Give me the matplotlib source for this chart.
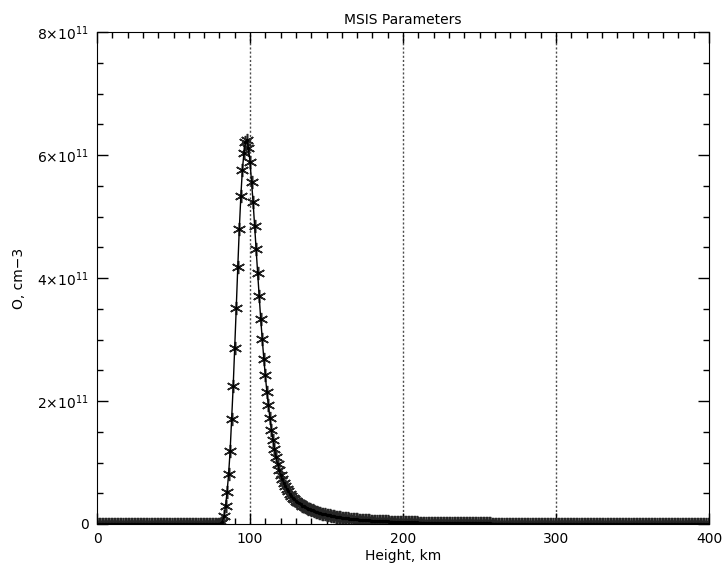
import numpy as np
import matplotlib
matplotlib.use("Agg")
from matplotlib import pyplot as plt
from matplotlib.ticker import MultipleLocator

plt.rcParams['font.family'] = ['DejaVu Sans']
plt.rcParams['mathtext.fontset'] = 'dejavusans'

# heights, km (one sample per km)
heights = np.arange(0, 401)

# atomic oxygen density, units of 1e11 cm-3
o_density = [
    # 0-79 km
    0, 0, 0, 0, 0, 0, 0, 0, 0, 0,
    0, 0, 0, 0, 0, 0, 0, 0, 0, 0,
    0, 0, 0, 0, 0, 0, 0, 0, 0, 0,
    0, 0, 0, 0, 0, 0, 0, 0, 0, 0,
    0, 0, 0, 0, 0, 0, 0, 0, 0, 0,
    0, 0, 0, 0, 0, 0, 0, 0, 0, 0,
    0, 0, 0, 0, 0, 0, 0, 0, 0, 0,
    0, 0, 0, 0, 0, 0, 0, 0, 0, 0,
    # 80-89
    0.003, 0.01, 0.04, 0.13, 0.29, 0.52, 0.81, 1.19, 1.71, 2.24,
    # 90-99
    2.86, 3.51, 4.18, 4.80, 5.33, 5.76, 6.03, 6.21, 6.25, 6.11,
    # 100-109
    5.89, 5.57, 5.24, 4.85, 4.47, 4.08, 3.71, 3.33, 3.01, 2.69,
    # 110-119
    2.42, 2.15, 1.93, 1.72, 1.53, 1.37, 1.22, 1.09, 0.98, 0.88,
    # 120-129
    0.80, 0.73, 0.67, 0.62, 0.57, 0.53, 0.49, 0.46, 0.43, 0.40,
    # 130-139
    0.38, 0.36, 0.34, 0.32, 0.30, 0.29, 0.27, 0.26, 0.25, 0.24,
    # 140-149
    0.23, 0.22, 0.21, 0.20, 0.19, 0.18, 0.175, 0.17, 0.16, 0.155,
    # 150-159
    0.15, 0.145, 0.14, 0.135, 0.13, 0.125, 0.12, 0.116, 0.112, 0.108,
    # 160-169
    0.104, 0.10, 0.097, 0.094, 0.091, 0.088, 0.085, 0.082, 0.079, 0.077,
    # 170-179
    0.074, 0.072, 0.070, 0.068, 0.066, 0.064, 0.062, 0.060, 0.058, 0.056,
    # 180-189
    0.055, 0.053, 0.052, 0.050, 0.049, 0.047, 0.046, 0.045, 0.043, 0.042,
    # 190-199
    0.041, 0.040, 0.039, 0.038, 0.037, 0.036, 0.035, 0.034, 0.033, 0.032,
    # 200-209
    0.031, 0.030, 0.030, 0.029, 0.028, 0.027, 0.027, 0.026, 0.025, 0.025,
    # 210-219
    0.024, 0.023, 0.023, 0.022, 0.022, 0.021, 0.021, 0.020, 0.020, 0.019,
    # 220-229
    0.019, 0.018, 0.018, 0.017, 0.017, 0.017, 0.016, 0.016, 0.015, 0.015,
    # 230-239
    0.015, 0.014, 0.014, 0.014, 0.013, 0.013, 0.013, 0.012, 0.012, 0.012,
    # 240-249
    0.012, 0.011, 0.011, 0.011, 0.010, 0.010, 0.010, 0.010, 0.009, 0.009,
    # 250-259
    0.009, 0.009, 0.009, 0.008, 0.008, 0.008, 0.008, 0.008, 0.007, 0.007,
    # 260-269
    0.007, 0.007, 0.007, 0.007, 0.006, 0.006, 0.006, 0.006, 0.006, 0.006,
    # 270-279
    0.006, 0.005, 0.005, 0.005, 0.005, 0.005, 0.005, 0.005, 0.005, 0.005,
    # 280-289
    0.005, 0.004, 0.004, 0.004, 0.004, 0.004, 0.004, 0.004, 0.004, 0.004,
    # 290-299
    0.004, 0.004, 0.004, 0.004, 0.004, 0.004, 0.004, 0.004, 0.004, 0.004,
    # 300-309
    0.004, 0.004, 0.004, 0.004, 0.004, 0.003, 0.003, 0.003, 0.003, 0.003,
    # 310-319
    0.003, 0.003, 0.003, 0.003, 0.003, 0.003, 0.003, 0.003, 0.003, 0.003,
    # 320-329
    0.003, 0.003, 0.003, 0.003, 0.003, 0.003, 0.003, 0.003, 0.003, 0.003,
    # 330-339
    0.003, 0.003, 0.003, 0.003, 0.003, 0.003, 0.003, 0.003, 0.003, 0.003,
    # 340-349
    0.003, 0.003, 0.003, 0.003, 0.003, 0.002, 0.002, 0.002, 0.002, 0.002,
    # 350-359
    0.002, 0.002, 0.002, 0.002, 0.002, 0.002, 0.002, 0.002, 0.002, 0.002,
    # 360-369
    0.002, 0.002, 0.002, 0.002, 0.002, 0.002, 0.002, 0.002, 0.002, 0.002,
    # 370-379
    0.002, 0.002, 0.002, 0.002, 0.002, 0.002, 0.002, 0.002, 0.002, 0.002,
    # 380-389
    0.002, 0.002, 0.002, 0.002, 0.002, 0.002, 0.002, 0.002, 0.002, 0.002,
    # 390-400
    0.002, 0.002, 0.002, 0.002, 0.002, 0.002, 0.002, 0.002, 0.002, 0.002,
    0.002,
]

x_ticks = [0, 100, 200, 300, 400]
y_ticks = [0, 2e11, 4e11, 6e11, 8e11]
y_tick_labels = ['0', r'$2{\times}10^{11}$', r'$4{\times}10^{11}$',
                 r'$6{\times}10^{11}$', r'$8{\times}10^{11}$']
dotted_heights = [100, 200, 300]

fig = plt.figure(figsize=(7.25, 5.76), dpi=100)
ax = fig.add_axes([0.1338, 0.0903, 0.978 - 0.1338, 0.944 - 0.0903])

dens = np.array(o_density) * 1e11
ax.plot(heights, dens, color='black', lw=1.0, zorder=3)
ax.plot(heights, dens, ls='none', marker=(6, 2, 0), ms=9.5, mew=1.1,
        mec='0.15', zorder=2)
# small dark centre on every sample, as in the original
ax.plot(heights, dens, ls='none', marker='o', ms=2.4, mfc='black',
        mec='black', mew=0, zorder=4)

for h in dotted_heights:
    ax.axvline(h, color='0.3', lw=1.0, ls=(0, (1.5, 1.5)), zorder=1)

ax.set_xlim(0, 400)
ax.set_ylim(0, 8e11)
ax.set_xticks(x_ticks)
ax.set_yticks(y_ticks)
ax.set_yticklabels(y_tick_labels)
ax.xaxis.set_minor_locator(MultipleLocator(10))
ax.yaxis.set_minor_locator(MultipleLocator(0.5e11))
ax.tick_params(which='both', direction='in', top=True, right=True,
               labelsize=10, pad=6)
ax.tick_params(which='major', length=8, width=1)
ax.tick_params(which='minor', length=4, width=1)

ax.set_title('MSIS Parameters', fontsize=10, pad=6)
ax.set_xlabel('Height, km', fontsize=10, labelpad=2)
ax.set_ylabel('O, cm\u22123', fontsize=10, labelpad=8)

fig.savefig('out.png', dpi=100)
